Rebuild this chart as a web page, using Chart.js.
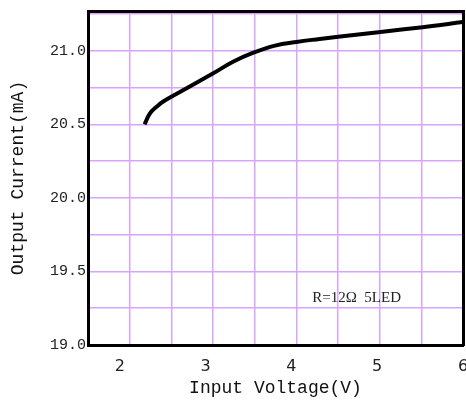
<!DOCTYPE html>
<html>
<head>
<meta charset="utf-8">
<script src="https://cdn.jsdelivr.net/npm/chart.js@4"></script>
<style>
  html, body { margin: 0; padding: 0; background: #fff; }
  #wrap { width: 466px; height: 403px; }
</style>
</head>
<body>
<div id="wrap"><canvas id="chart"></canvas></div>
<script>
// ----------------------------------------------------------------------
//  data
// ----------------------------------------------------------------------
const voltage = [2.29, 2.35, 2.43, 2.52, 2.79, 3.09, 3.32, 3.55, 3.81, 4.06, 4.33, 4.57, 5.04, 5.53, 6.0]
const current = [20.50, 20.573, 20.62, 20.66, 20.748, 20.847, 20.925, 20.985, 21.035, 21.06, 21.08, 21.097, 21.128, 21.16, 21.195]
const xTicks = [2, 3, 4, 5, 6]
const yTicks = [19.0, 19.5, 20.0, 20.5, 21.0]
const note = "R=12Ω  5LED"

const gridColor = "#d7a4ff"
const monoFont = "'Liberation Mono', 'DejaVu Sans Mono', monospace"

// ----------------------------------------------------------------------
const notePlugin = {
    id: 'note',
    afterDatasetsDraw (chart)
    {
        const ctx = chart.ctx
        const x = chart.scales.x.getPixelForValue(4.76)
        const y = chart.scales.y.getPixelForValue(19.32)
        ctx.save()
        ctx.font = "15px 'Liberation Serif', serif"
        ctx.fillStyle = "#222"
        ctx.textAlign = "center"
        ctx.textBaseline = "middle"
        ctx.fillText(note, x, y)
        ctx.restore()
    }
}

const points = voltage.map((v, i) => ({x: v, y: current[i]}))

const noPad = s => { s.paddingLeft = 0; s.paddingRight = 0 }

const config = {
    type: 'line',
    data: {
        datasets: [{
            data: points,
            borderColor: "#000",
            borderWidth: 4,
            pointRadius: 0,
            tension: 0.4,
            fill: false
        }]
    },
    plugins: [notePlugin],
    options: {
        responsive: true,
        maintainAspectRatio: false,
        animation: false,
        layout: { padding: 0 },
        plugins: { legend: { display: false }, tooltip: { enabled: false } },
        scales: {
            x: {
                type: 'linear',
                position: 'bottom',
                min: 1.63,
                max: 6,
                afterBuildTicks: s => { s.ticks = xTicks.map(v => ({value: v})) },
                afterFit: s => { s.height = 58; noPad(s) },
                grid: { display: false },
                border: { display: true, color: "#000", width: 3 },
                ticks: {
                    color: "#222",
                    padding: 4,
                    font: { family: "'DejaVu Sans', sans-serif", size: 16 }
                },
                title: {
                    display: true,
                    text: "Input Voltage(V)",
                    color: "#111",
                    padding: { top: 2, bottom: 4 },
                    font: { family: monoFont, size: 18 }
                }
            },
            xg: {
                type: 'linear',
                position: 'top',
                min: 0,
                max: 9,
                afterFit: s => { s.height = 9; noPad(s) },
                grid: { color: gridColor, lineWidth: 1.5, drawTicks: false },
                border: { display: true, color: "#000", width: 3 },
                ticks: { display: false, stepSize: 1 }
            },
            y: {
                type: 'linear',
                position: 'left',
                min: 19.0,
                max: 21.27,
                afterBuildTicks: s => {
                    const t = []
                    for (let v = 19.0; v <= 21.26; v += 0.25) t.push({value: Math.round(v * 100) / 100})
                    s.ticks = t
                },
                afterFit: s => { s.width = 88 },
                grid: { color: gridColor, lineWidth: 1.5, drawTicks: false },
                border: { display: true, color: "#000", width: 3 },
                ticks: {
                    color: "#222",
                    padding: 2,
                    font: { family: monoFont, size: 15 },
                    callback: v => yTicks.includes(v) ? v.toFixed(1) : ''
                },
                title: {
                    display: true,
                    text: "Output Current(mA)",
                    color: "#111",
                    padding: { top: 7, bottom: 0 },
                    font: { family: monoFont, size: 18 }
                }
            },
            yr: {
                type: 'linear',
                position: 'right',
                min: 19.0,
                max: 21.27,
                afterFit: s => { s.width = 3 },
                grid: { display: false },
                border: { display: true, color: "#000", width: 3 },
                ticks: { display: false }
            }
        }
    }
}

const chart = new Chart(document.getElementById("chart"), config)
</script>
</body>
</html>
